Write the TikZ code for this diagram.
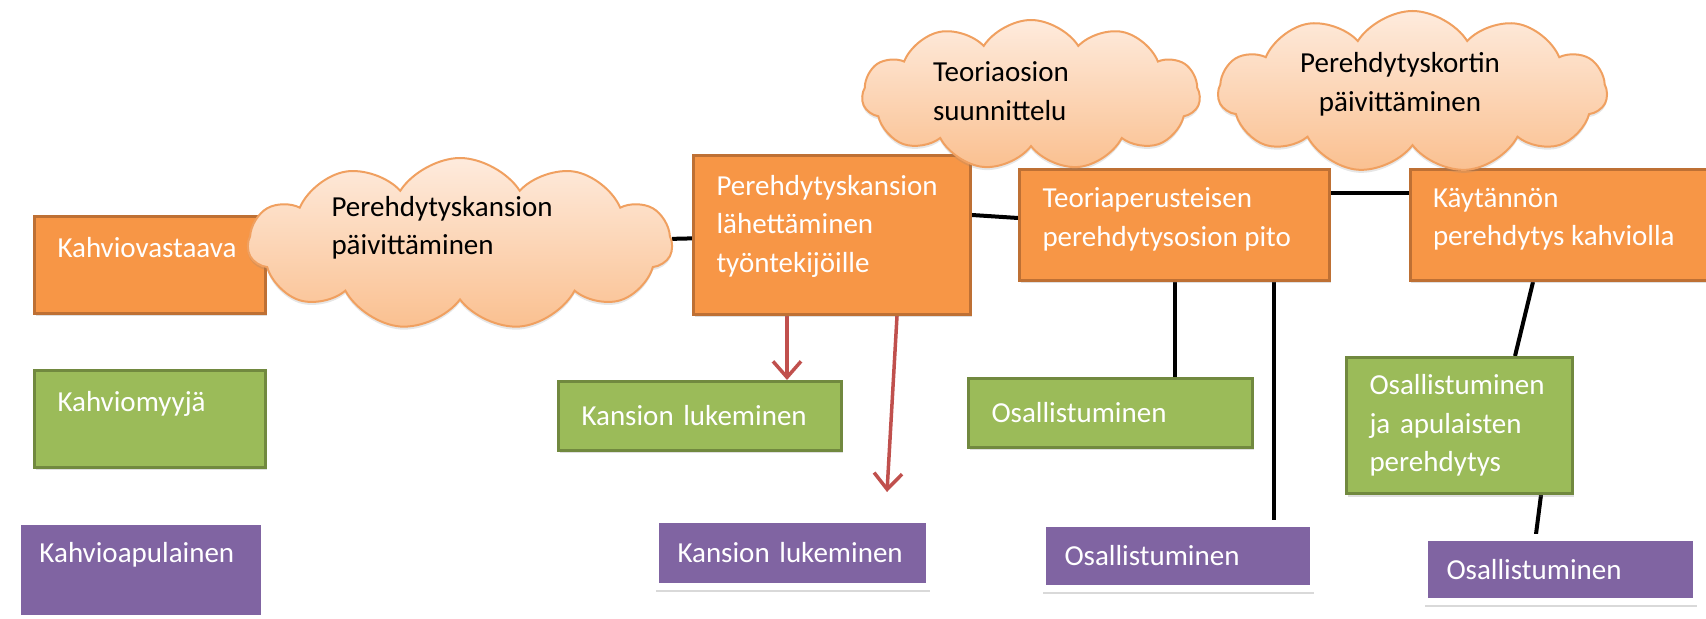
\documentclass[tikz,border=0pt]{standalone}
\usepackage{fontspec}
\setmainfont{Carlito}
\usetikzlibrary{arrows.meta, shapes.symbols, shadows, backgrounds}
\definecolor{kahvorange}{HTML}{F79646}
\definecolor{kahvorangeline}{RGB}{190,112,52}
\definecolor{kahvgreen}{HTML}{9BBB59}
\definecolor{kahvgreenline}{HTML}{71893F}
\definecolor{kahvpurple}{HTML}{8064A2}
\definecolor{cloudtop}{HTML}{FEEBDD}
\definecolor{cloudbottom}{HTML}{FAC090}
\definecolor{cloudline}{HTML}{F0A060}
\definecolor{arrowred}{HTML}{C0504D}

% teksti laatikon ylaosaan
\newcommand{\boxtext}[3]{\parbox[c][#1][t]{#2}{\raggedright #3}}

\begin{document}
\begin{tikzpicture}[x=0.5pt, y=-0.5pt, >={Straight Barb[length=8pt,width=14pt]},
    font=\fontsize{14.5}{19.25}\selectfont,
    kbox/.style={rectangle, inner xsep=11.5pt, inner ysep=3pt, text=white, align=left,
        drop shadow={opacity=0.25, shadow xshift=0.5pt, shadow yshift=-1.5pt}},
    obox/.style={kbox, fill=kahvorange, draw=kahvorangeline, line width=1.5pt},
    gbox/.style={kbox, fill=kahvgreen, draw=kahvgreenline, line width=1.5pt},
    pbox/.style={kbox, inner xsep=11pt, fill=kahvpurple, draw=white, line width=3.5pt,
        drop shadow={opacity=0.3, shadow xshift=0pt, shadow yshift=-2.5pt}},
    pilvi/.style={cloud, cloud puffs=11, cloud puff arc=115, cloud ignores aspect,
        inner sep=0pt, top color=cloudtop, bottom color=cloudbottom, draw=cloudline,
        line width=1pt, drop shadow={opacity=0.2, shadow xshift=0pt, shadow yshift=-1.5pt}},
    ptext/.style={text=black, align=left},
    link/.style={draw=black, line width=2pt},
    arr/.style={draw=arrowred, line width=1.75pt, ->}]

    \useasboundingbox (0,0) rectangle (1706,619);

    % ==========================================================
    % roolit vasemmalla
    % ==========================================================
    \node[obox, minimum width=115.5pt, minimum height=48.5pt] (vast) at (150,265)
        {\boxtext{28pt}{92.5pt}{Kahviovastaava}};
    \node[gbox, minimum width=115.5pt, minimum height=48.5pt] (myyja) at (150,419)
        {\boxtext{28pt}{92.5pt}{Kahviomyyjä}};
    \node[pbox, minimum width=123.5pt, minimum height=48.5pt] (apul) at (141,570)
        {\boxtext{28pt}{101.5pt}{Kahvioapulainen}};

    % ==========================================================
    % kahviovastaavan tehtavat
    % ==========================================================
    \node[obox, minimum width=138.5pt, minimum height=79.5pt] (kans) at (832,235)
        {\boxtext{60pt}{115.5pt}{Perehdytyskansion\\lähettäminen\\työntekijöille}};
    \node[obox, minimum width=155pt, minimum height=55.5pt] (teor) at (1174.5,225)
        {\boxtext{37pt}{132pt}{Teoriaperusteisen\\perehdytysosion pito}};
    \node[obox, minimum width=160pt, minimum height=55.5pt] (kayt) at (1570,225)
        {\boxtext{37pt}{137pt}{Käytännön\\perehdytys kahviolla}};

    % myyjat
    \node[gbox, minimum width=141.5pt, minimum height=34.5pt, text width=118.5pt] (lue1)
        at (700,416) {Kansion lukeminen};
    \node[gbox, minimum width=142pt, minimum height=34.5pt, text width=119pt] (osa1)
        at (1110.5,413) {Osallistuminen};
    \node[gbox, minimum width=113pt, minimum height=68pt, text width=90pt] (osa3)
        at (1459.5,425.5) {Osallistuminen\\ja apulaisten\\perehdytys};

    % apulaiset
    \node[pbox, minimum width=137pt, minimum height=33.5pt, text width=115pt] (lue2)
        at (792.5,553) {Kansion lukeminen};
    \node[pbox, minimum width=135.5pt, minimum height=32.5pt, text width=113.5pt] (osa2)
        at (1178,556) {Osallistuminen};
    \node[pbox, minimum width=136pt, minimum height=32pt, text width=114pt] (osa4)
        at (1560.5,569.5) {Osallistuminen};

    % ==========================================================
    % pilvet
    % ==========================================================
    \node[pilvi, minimum width=212pt, minimum height=86pt,
        label={[ptext, xshift=-9pt, yshift=8pt]center:Perehdytyskansion\\päivittäminen}]
        (c1) at (460,244) {};
    \node[pilvi, minimum width=169pt, minimum height=75pt,
        label={[ptext, xshift=-15pt, yshift=2pt]center:Teoriaosion\\suunnittelu}]
        (c2) at (1031,95) {};
    \node[pilvi, minimum width=194.5pt, minimum height=81pt,
        label={[ptext, align=center, xshift=-6.25pt, yshift=3.75pt]center:Perehdytyskortin\\päivittäminen}]
        (c3) at (1412.5,92) {};

    \coordinate (nuoli) at (887,492);

    % yhteydet taustalle
    \begin{scope}[on background layer]
        \draw[link] (c1) -- (kans);
        \draw[link] ([yshift=10pt]kans.east) -- ([yshift=3.5pt]teor.west);
        \draw[link] ([yshift=16pt]teor.east) -- ([yshift=16pt]teor.east -| kayt.west);
        \draw[link] (teor.south) -- (teor.south |- osa1.north);
        \draw[link] ([xshift=49.75pt]teor.south) -- ([xshift=49.75pt]teor.south |- osa2.north);
        \draw[link] ([xshift=-18.5pt]kayt.south) -- ([xshift=27.75pt]osa3.north);
        \draw[link] ([xshift=40.75pt]osa3.south) -- ([xshift=-12.25pt]osa4.north);

        \draw[arr] ([xshift=-22.5pt]kans.south) -- ([xshift=-22.5pt]kans.south |- lue1.north);
        \draw[arr] ([xshift=32.5pt]kans.south) -- (nuoli);
    \end{scope}

\end{tikzpicture}
\end{document}
